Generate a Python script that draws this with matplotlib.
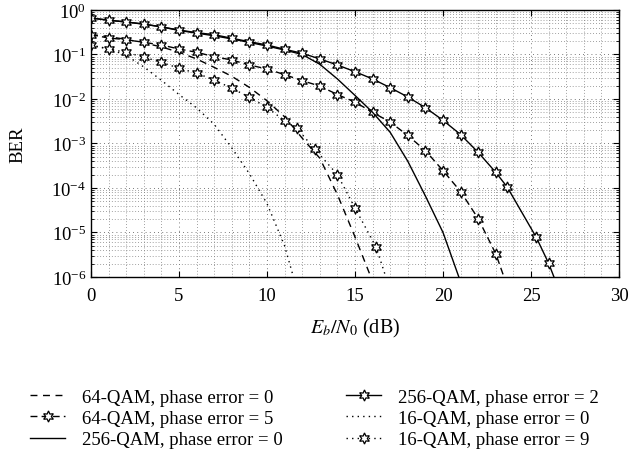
import matplotlib
matplotlib.use('Agg')
import matplotlib.pyplot as plt
from matplotlib.ticker import MultipleLocator, LogLocator, NullFormatter
import numpy as np

plt.rcParams['font.family'] = ['Liberation Serif', 'DejaVu Serif']
plt.rcParams['mathtext.fontset'] = 'stix'

# data (log10 of BER)
x_64_0 = [0, 1, 2, 3, 4, 5, 6, 7, 8, 9, 10, 11, 12, 13, 14, 15, 15.9, 16.5]
y_64_0 = [-0.55, -0.60, -0.66, -0.74, -0.83, -0.95, -1.10, -1.29, -1.49, -1.74,
          -2.04, -2.40, -2.88, -3.33, -4.15, -5.10, -6.0, -6.6]

x_64_5 = [0, 1, 2, 3, 4, 5, 6, 7, 8, 9, 10, 11, 12, 13, 14, 15, 16, 17, 18, 19,
          20, 21, 22, 23, 24]
y_64_5 = [-0.555, -0.63, -0.667, -0.727, -0.787, -0.876, -0.951, -1.049, -1.124,
          -1.236, -1.326, -1.453, -1.588, -1.71, -1.90, -2.07, -2.30, -2.52,
          -2.82, -3.16, -3.61, -4.08, -4.69, -5.48, -6.6]

x_256_0 = [0, 1, 2, 3, 4, 5, 6, 7, 8, 9, 10, 11, 12, 13, 14, 15, 16, 17, 18, 19,
           20, 20.9, 21.5]
y_256_0 = [-0.18, -0.23, -0.27, -0.32, -0.38, -0.46, -0.52, -0.58, -0.65, -0.73,
           -0.81, -0.90, -1.0, -1.22, -1.55, -1.92, -2.30, -2.75, -3.40, -4.18,
           -5.0, -6.0, -6.7]

x_256_2 = [0, 1, 2, 3, 4, 5, 6, 7, 8, 9, 10, 11, 12, 13, 14, 15, 16, 17, 18, 19,
           20, 21, 22, 23, 23.65, 25.3, 26, 26.5]
y_256_2 = [-0.18, -0.23, -0.27, -0.315, -0.38, -0.45, -0.51, -0.555, -0.636,
           -0.712, -0.787, -0.883, -0.973, -1.10, -1.236, -1.387, -1.55, -1.746,
           -1.955, -2.195, -2.479, -2.80, -3.20, -3.65, -3.98, -5.11, -5.69, -6.2]
mk_256_2 = 27  # last point only extends the line past the axis

x_16_0 = [0, 1, 2, 3, 4, 5, 6, 7, 8, 9, 10, 11, 11.5, 12]
y_16_0 = [-0.80, -0.87, -1.02, -1.28, -1.58, -1.90, -2.20, -2.57, -3.10, -3.68,
          -4.35, -5.30, -6.0, -6.8]

x_16_9 = [0, 1, 2, 3, 4, 5, 6, 7, 8, 9, 10, 11, 11.7, 12.7, 14, 15, 16.2, 17]
y_16_9 = [-0.787, -0.876, -0.951, -1.06, -1.175, -1.31, -1.42, -1.573, -1.76,
          -1.96, -2.19, -2.49, -2.66, -3.12, -3.70, -4.45, -5.33, -6.3]
mk_16_9 = 17

labels = ['64-QAM, phase error = 0', '64-QAM, phase error = 5',
          '256-QAM, phase error = 0', '256-QAM, phase error = 2',
          '16-QAM, phase error = 0', '16-QAM, phase error = 9']

fig = plt.figure(figsize=(6.29, 4.52), dpi=100)
ax = fig.add_axes([0.1447, 0.385, 0.8394, 0.5907])

star = (6, 1, 0)
mk = dict(marker=star, markersize=8, markerfacecolor='white',
          markeredgecolor='black', markeredgewidth=0.9)

ax.semilogy(x_64_0, 10 ** np.array(y_64_0), color='black', lw=1.0,
            dashes=(5, 4), label=labels[0])
ax.semilogy(x_64_5, 10 ** np.array(y_64_5), color='black', lw=1.0,
            dashes=(5, 3), markevery=list(range(len(x_64_5) - 1)),
            label=labels[1], **mk)
ax.semilogy(x_256_0, 10 ** np.array(y_256_0), color='black', lw=1.0,
            ls='-', label=labels[2])
ax.semilogy(x_256_2, 10 ** np.array(y_256_2), color='black', lw=1.0,
            ls='-', markevery=list(range(mk_256_2)), label=labels[3], **mk)
ax.semilogy(x_16_0, 10 ** np.array(y_16_0), color='black', lw=1.0,
            dashes=(1, 3), label=labels[4])
ax.semilogy(x_16_9, 10 ** np.array(y_16_9), color='black', lw=1.0,
            dashes=(1, 3), markevery=list(range(mk_16_9)),
            label=labels[5], **mk)

ax.set_xlim(0, 30)
ax.set_ylim(1e-6, 1)
ax.xaxis.set_major_locator(MultipleLocator(5))
ax.xaxis.set_minor_locator(MultipleLocator(1))
ax.yaxis.set_major_locator(LogLocator(base=10, numticks=10))
ax.yaxis.set_minor_locator(LogLocator(base=10, subs=np.arange(2, 10), numticks=20))
ax.yaxis.set_minor_formatter(NullFormatter())

ax.grid(True, which='major', color='0.3', lw=0.6, dashes=(1, 4))
ax.grid(True, which='minor', color='0.5', lw=0.6, dashes=(1, 2.5))
ax.tick_params(which='both', direction='in', top=True, right=True,
               labelsize=13.5)
ax.tick_params(which='major', length=4)
ax.tick_params(which='minor', length=2)
ax.tick_params(axis='x', which='both', pad=7)
ax.tick_params(axis='x', which='minor', length=0)
for s in ax.spines.values():
    s.set_linewidth(1.0)

ax.set_xlabel('$E_b/N_0$ (dB)', fontsize=14.5, labelpad=9)
ax.set_ylabel('BER', fontsize=13.5, labelpad=18)

fig.legend(loc='upper left', bbox_to_anchor=(0.048, 0.138), ncol=2,
           frameon=False, fontsize=13.5, handlelength=1.85,
           columnspacing=3.4, labelspacing=0.22, handletextpad=0.9,
           borderaxespad=0, borderpad=0)

fig.savefig('out.png', dpi=100)
